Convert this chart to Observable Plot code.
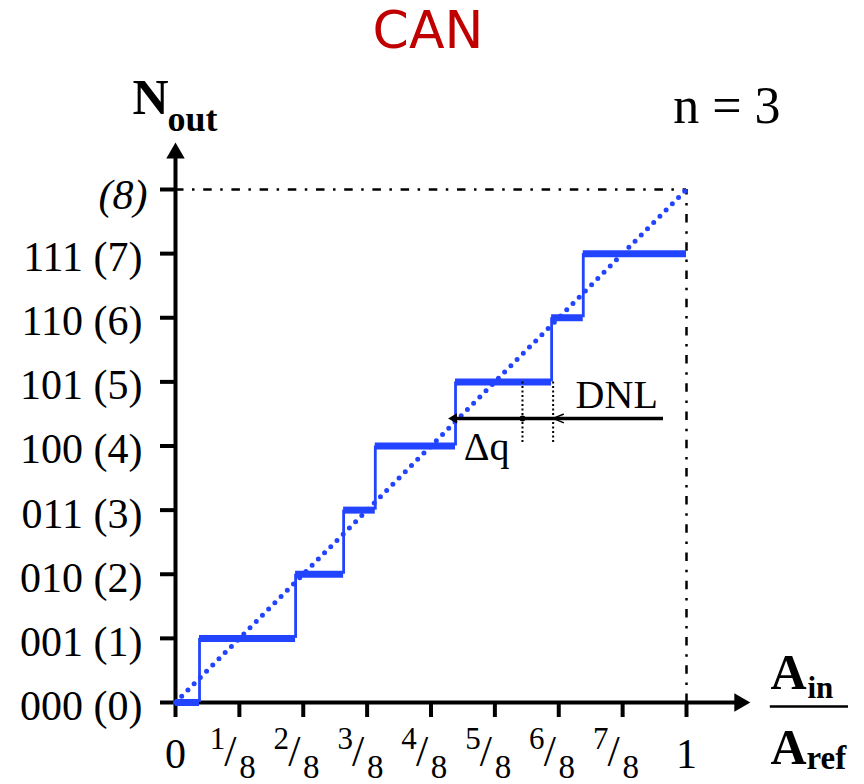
<!DOCTYPE html>
<html>
<head>
<meta charset="utf-8">
<script src="https://cdn.jsdelivr.net/npm/d3@7"></script>
<script src="https://cdn.jsdelivr.net/npm/@observablehq/plot@0.6"></script>
<style>
  body { margin: 0; background: #fff; }
  #title { width: 856px; padding-right: 8px; height: 60px; line-height: 60px; text-align: center;
           font-family: "DejaVu Sans", sans-serif; font-size: 52px; color: #c00000; }
</style>
</head>
<body>
<div id="title">CAN</div>
<div id="chart"></div>
<script>
// ---- data ----
const levels = [0, 1, 2, 3, 4, 5, 6, 7];
const codeLabels = ["000 (0)", "001 (1)", "010 (2)", "011 (3)", "100 (4)", "101 (5)", "110 (6)", "111 (7)"];
const fullScaleCode = 8;
const fullScaleLabel = "(8)";
const transitions = [0.047, 0.235, 0.329, 0.391, 0.548, 0.736, 0.798]; // input where codes 1..7 begin
const inputMax = 1;
const xTicks = [0, 0.125, 0.25, 0.375, 0.5, 0.625, 0.75, 0.875, 1];
const xNumerators = ["1", "2", "3", "4", "5", "6", "7"];
const xDenominator = "8";
const xEndLabels = ["0", "1"];
const idealLine = [{x: 0, y: 0}, {x: 1, y: 8}];
const dnlLevelY = 4.43;
const dnlLineX = [0.547, 0.955];
const dnlIdealEnd = 0.679;
const dnlRealEnd = 0.739;
const dnlMarkBottom = 4.04;

// ---- derived tables ----
const steps = levels.map((k, i) => ({level: k, x1: i === 0 ? 0 : transitions[i - 1], x2: i === levels.length - 1 ? inputMax : transitions[i]}));
const risers = transitions.map((t, i) => ({x: t, y1: levels[i], y2: levels[i + 1]}));
const yLabelRows = levels.map((k, i) => ({y: k, label: codeLabels[i]}));
const fracTicks = xTicks.slice(1, 8).map((x, i) => ({x, num: xNumerators[i], den: xDenominator}));
const endTicks = [{x: xTicks[0], label: xEndLabels[0]}, {x: xTicks[8], label: xEndLabels[1]}];

const serif = "Liberation Serif, Times New Roman, serif";
const blue = "#2244ff";

const plot = Plot.plot({
  width: 864,
  height: 724,
  marginLeft: 175,
  marginRight: 178,
  marginTop: 129,
  marginBottom: 82,
  x: {domain: [0, inputMax]},
  y: {domain: [0, fullScaleCode]},
  style: {background: "white", color: "black", fontFamily: serif},
  marks: [
    // dash-dot full-scale guides
    Plot.ruleY([{y: fullScaleCode, x1: 0, x2: inputMax}], {y: "y", x1: "x1", x2: "x2", strokeWidth: 2.5, strokeDasharray: "8.5,8.5,2.5,8.7"}),
    Plot.ruleX([{x: inputMax, y1: 0, y2: fullScaleCode}], {x: "x", y1: "y1", y2: "y2", strokeWidth: 2.5, strokeDasharray: "8.5,8.5,2.5,8.7"}),
    // axes
    Plot.axisY({ticks: [...levels, fullScaleCode], tickSize: 15, tickFormat: () => "", strokeWidth: 4}),
    Plot.axisX({ticks: xTicks, tickSize: 15, tickFormat: () => "", strokeWidth: 4}),
    Plot.ruleY([{y: 0, x1: 0, x2: 1.104}], {y: "y", x1: "x1", x2: "x2", strokeWidth: 4}),
    Plot.ruleX([{x: 0, y1: 0, y2: 8.566}], {x: "x", y1: "y1", y2: "y2", strokeWidth: 4}),
    Plot.dot([{x: 1.104, y: 0}], {x: "x", y: "y", symbol: "triangle", r: 6.85, fill: "black", stroke: "none", rotate: 90}),
    Plot.dot([{x: 0, y: 8.566}], {x: "x", y: "y", symbol: "triangle", r: 6.85, fill: "black", stroke: "none"}),
    // ideal transfer (dotted)
    Plot.line(idealLine, {x: "x", y: "y", stroke: blue, strokeWidth: 5, strokeLinecap: "round", strokeDasharray: "0,8.8"}),
    // staircase
    Plot.ruleX(risers, {x: "x", y1: "y1", y2: "y2", stroke: blue, strokeWidth: 2.8}),
    Plot.ruleY(steps, {y: "level", x1: "x1", x2: "x2", stroke: blue, strokeWidth: 7}),
    // DNL annotation
    Plot.ruleX([dnlIdealEnd, dnlRealEnd], {x: d => d, y1: fullScaleCode - 3, y2: dnlMarkBottom, strokeWidth: 2, strokeDasharray: "2,2.5"}),
    Plot.ruleY([{y: dnlLevelY, x1: dnlLineX[0], x2: dnlLineX[1]}], {y: "y", x1: "x1", x2: "x2", strokeWidth: 3.5}),
    Plot.arrow([{x1: 0.86, x2: dnlRealEnd, y: dnlLevelY}], {x1: "x1", x2: "x2", y1: "y", y2: "y", strokeWidth: 1.5, headLength: 11, headAngle: 45}),
    Plot.dot([{x: 0.545, y: dnlLevelY}], {x: "x", y: "y", symbol: "triangle", r: 3.8, fill: "black", stroke: "none", rotate: -90}),
    Plot.dot([{x: dnlIdealEnd, y: dnlLevelY}], {x: "x", y: "y", r: 3, fill: "black", stroke: "none"}),
    Plot.text([{x: 0.783, y: 4.6, t: "DNL"}], {x: "x", y: "y", text: "t", textAnchor: "start", lineAnchor: "bottom", fontSize: 40, fontFamily: serif}),
    Plot.text([{x: 0.564, y: 3.774, t: "Δq"}], {x: "x", y: "y", text: "t", textAnchor: "start", lineAnchor: "bottom", fontSize: 40, fontFamily: serif}),
    // y tick labels
    Plot.text(yLabelRows, {x: 0, y: "y", text: "label", textAnchor: "end", lineAnchor: "middle", dx: -33, dy: 4, fontSize: 42, fontFamily: serif}),
    Plot.text([{y: fullScaleCode, label: fullScaleLabel}], {x: 0, y: "y", text: "label", textAnchor: "end", lineAnchor: "middle", dx: -28, dy: 6, fontSize: 42, fontStyle: "italic", fontFamily: serif}),
    // x tick labels
    Plot.text(endTicks, {x: "x", y: 0, text: "label", textAnchor: "middle", lineAnchor: "bottom", dy: 65, fontSize: 42, fontFamily: serif}),
    Plot.text(fracTicks, {x: "x", y: 0, text: "num", textAnchor: "middle", lineAnchor: "bottom", dx: -22, dy: 46, fontSize: 31, fontFamily: serif}),
    Plot.text(fracTicks, {x: "x", y: 0, text: () => "/", textAnchor: "middle", lineAnchor: "bottom", dx: -9, dy: 63, fontSize: 44, fontFamily: serif}),
    Plot.text(fracTicks, {x: "x", y: 0, text: "den", textAnchor: "middle", lineAnchor: "bottom", dx: 8, dy: 75, fontSize: 33, fontFamily: serif}),
    // axis titles
    Plot.text(["N"], {frameAnchor: "top-left", dx: -43, dy: -76, textAnchor: "start", lineAnchor: "bottom", fontSize: 50, fontWeight: "bold", fontFamily: serif}),
    Plot.text(["out"], {frameAnchor: "top-left", dx: -8, dy: -59, textAnchor: "start", lineAnchor: "bottom", fontSize: 36, fontWeight: "bold", fontFamily: serif}),
    Plot.text(["n = 3"], {frameAnchor: "top-right", dx: 94, dy: -67, textAnchor: "end", lineAnchor: "bottom", fontSize: 52, fontFamily: serif}),
    Plot.text(["A"], {frameAnchor: "bottom-right", dx: 84, dy: -14, textAnchor: "start", lineAnchor: "bottom", fontSize: 50, fontWeight: "bold", fontFamily: serif}),
    Plot.text(["in"], {frameAnchor: "bottom-right", dx: 121, dy: -5, textAnchor: "start", lineAnchor: "bottom", fontSize: 31, fontWeight: "bold", fontFamily: serif}),
    Plot.ruleY([{y: -0.062, x1: 1.164, x2: 1.317}], {y: "y", x1: "x1", x2: "x2", strokeWidth: 2.5}),
    Plot.text(["A"], {frameAnchor: "bottom-right", dx: 84, dy: 61, textAnchor: "start", lineAnchor: "bottom", fontSize: 50, fontWeight: "bold", fontFamily: serif}),
    Plot.text(["ref"], {frameAnchor: "bottom-right", dx: 120, dy: 66, textAnchor: "start", lineAnchor: "bottom", fontSize: 33, fontWeight: "bold", fontFamily: serif})
  ]
});
document.getElementById("chart").append(plot);
</script>
</body>
</html>
